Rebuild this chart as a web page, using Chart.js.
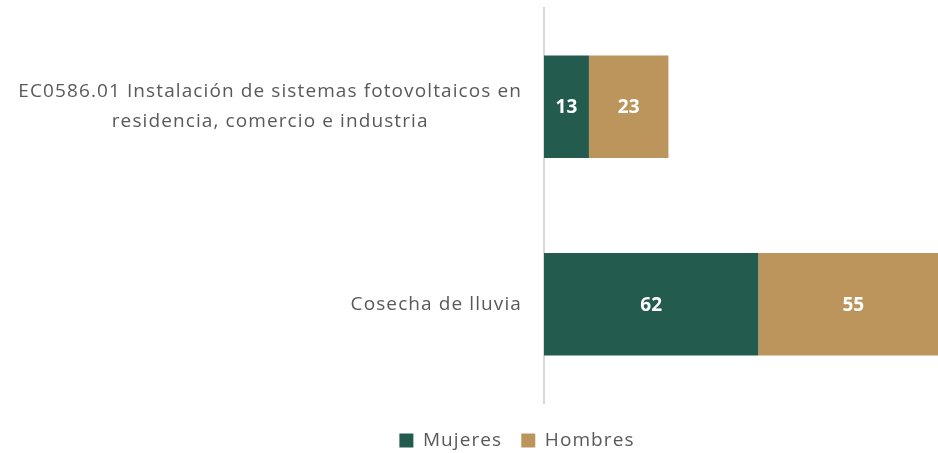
<!DOCTYPE html>
<html>
<head>
<meta charset="utf-8">
<script src="https://cdn.jsdelivr.net/npm/chart.js@4/dist/chart.umd.min.js"></script>
<style>
  html, body { margin: 0; padding: 0; background: #fff; }
  #wrap { width: 938px; height: 453px; position: relative; }
</style>
</head>
<body>
<div id="wrap"><canvas id="chart"></canvas></div>
<script>
const categories = [
  ['EC0586.01 Instalación de sistemas fotovoltaicos en', 'residencia, comercio e industria'],
  'Cosecha de lluvia',
];
const mujeres = [13, 62];
const hombres = [23, 55];

const GREEN = '#235b4e';
const GOLD = '#bc955c';
const TEXT = '#595959';
const SPACING = '1.1px';

// the source uses loosely tracked text, so widen every label a little
const tracking = {
  id: 'tracking',
  beforeUpdate(chart) { chart.ctx.letterSpacing = SPACING; },
  beforeDraw(chart) { chart.ctx.letterSpacing = SPACING; },
};

// category labels: block right-aligned to the axis, lines centred inside the block
const categoryLabels = {
  id: 'categoryLabels',
  afterDraw(chart) {
    const ctx = chart.ctx;
    const y = chart.scales.y;
    ctx.save();
    ctx.letterSpacing = SPACING;
    ctx.fillStyle = TEXT;
    ctx.font = '19px "Open Sans", sans-serif';
    ctx.textAlign = 'center';
    ctx.textBaseline = 'middle';
    const right = y.right - 22;
    const lineH = 30;
    categories.forEach((label, i) => {
      const lines = Array.isArray(label) ? label : [label];
      const w = Math.max(...lines.map(l => ctx.measureText(l).width));
      const cx = right - w / 2;
      const cy = y.getPixelForTick(i);
      lines.forEach((l, k) => {
        ctx.fillText(l, cx, cy + (k - (lines.length - 1) / 2) * lineH);
      });
    });
    ctx.restore();
  },
};

// white value labels in the middle of each segment
const valueLabels = {
  id: 'valueLabels',
  afterDatasetsDraw(chart) {
    const ctx = chart.ctx;
    ctx.save();
    ctx.letterSpacing = '0px';
    ctx.fillStyle = '#ffffff';
    ctx.font = 'bold 19px "Open Sans", sans-serif';
    ctx.textAlign = 'center';
    ctx.textBaseline = 'middle';
    chart.data.datasets.forEach((ds, i) => {
      chart.getDatasetMeta(i).data.forEach((bar, j) => {
        const p = bar.getCenterPoint();
        ctx.fillText(String(ds.data[j]), p.x, p.y + 1);
      });
    });
    ctx.restore();
  },
};

new Chart(document.getElementById('chart'), {
  type: 'bar',
  data: {
    labels: categories,
    datasets: [
      { label: 'Mujeres', data: mujeres, backgroundColor: GREEN, barPercentage: 0.52, categoryPercentage: 1 },
      { label: 'Hombres', data: hombres, backgroundColor: GOLD, barPercentage: 0.52, categoryPercentage: 1 },
    ],
  },
  options: {
    indexAxis: 'y',
    responsive: true,
    maintainAspectRatio: false,
    animation: false,
    layout: { padding: { top: 8, right: 0, left: 96, bottom: -7 } },
    scales: {
      x: {
        stacked: true, min: 0, max: 114,
        ticks: { display: false },
        grid: { display: false, drawTicks: true, tickLength: 9 },
        border: { display: false },
      },
      y: {
        stacked: true,
        grid: { display: false },
        border: { display: true, color: '#d9d9d9', width: 2 },
        ticks: { display: false },
        afterFit(scale) {
          scale.width = 448;
          scale.paddingTop = 0;
          scale.paddingBottom = 0;
        },
      },
    },
    plugins: {
      legend: {
        position: 'bottom',
        labels: {
          color: TEXT,
          boxWidth: 14,
          boxHeight: 14,
          padding: 19,
          font: { family: 'Open Sans', size: 19 },
        },
      },
      tooltip: { enabled: false },
    },
  },
  plugins: [tracking, categoryLabels, valueLabels],
});
</script>
</body>
</html>
